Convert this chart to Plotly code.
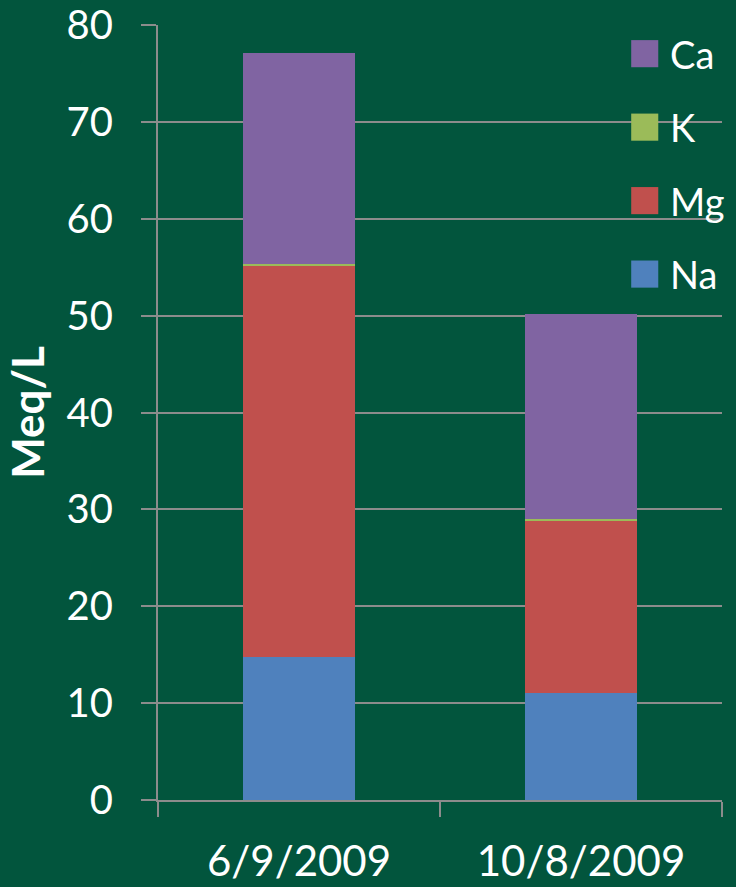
import plotly.graph_objects as go

# Cation concentrations (Meq/L) on two sampling dates
dates = ["6/9/2009", "10/8/2009"]
na = [14.8, 11.0]
mg = [40.4, 17.9]
k = [0.1, 0.1]
ca = [21.8, 21.2]

series_names = ["Na", "Mg", "K", "Ca"]
series_values = [na, mg, k, ca]
series_colors = ["#4F81BD", "#C0504D", "#9BBB59", "#8064A2"]

bg = "#02553D"
axis_grey = "#8C8C8C"
font_family = "Lato, 'Open Sans', sans-serif"

fig = go.Figure()
for name, vals, col in zip(series_names, series_values, series_colors):
    fig.add_trace(go.Bar(
        x=dates, y=vals, name=name,
        marker=dict(color=col, line=dict(width=0)),
        showlegend=False,
    ))

# Legend drawn as swatches + labels, listed top-down in reverse stack order
legend_top = 0.963
legend_step = 0.0948
for i, (name, col) in enumerate(zip(series_names[::-1], series_colors[::-1])):
    yc = legend_top - i * legend_step
    fig.add_shape(type="rect", xref="paper", yref="paper",
                  x0=0.839, x1=0.887, y0=yc - 0.0175, y1=yc + 0.0175,
                  fillcolor=col, line=dict(width=0), layer="above")
    fig.add_annotation(xref="paper", yref="paper", x=0.905, y=yc,
                       text=name, showarrow=False, xanchor="left", yanchor="middle",
                       font=dict(size=38, color="white", family=font_family))

fig.update_layout(
    barmode="stack",
    bargap=0.6,
    width=736, height=887,
    margin=dict(l=158, r=14, t=25, b=87, autoexpand=False),
    paper_bgcolor=bg, plot_bgcolor=bg,
    font=dict(family=font_family, color="white"),
    xaxis=dict(
        type="category", automargin=False,
        showline=True, linecolor=axis_grey, linewidth=2,
        ticks="outside", tickson="boundaries", ticklen=15, tickwidth=2, tickcolor=axis_grey,
        tickfont=dict(size=42, color="white", family=font_family),
        ticklabelstandoff=24,
        showgrid=False,
    ),
    yaxis=dict(
        range=[0, 80], dtick=10, automargin=False,
        showline=True, linecolor=axis_grey, linewidth=2,
        ticks="outside", ticklen=15, tickwidth=2, tickcolor=axis_grey,
        tickfont=dict(size=40, color="white", family=font_family),
        ticklabelstandoff=20,
        showgrid=True, gridcolor=axis_grey, gridwidth=2,
        zeroline=False,
        title=dict(text="<b>Meq/L</b>", font=dict(size=44, color="white", family=font_family),
                   standoff=8),
    ),
)

fig.write_html("out.html")
